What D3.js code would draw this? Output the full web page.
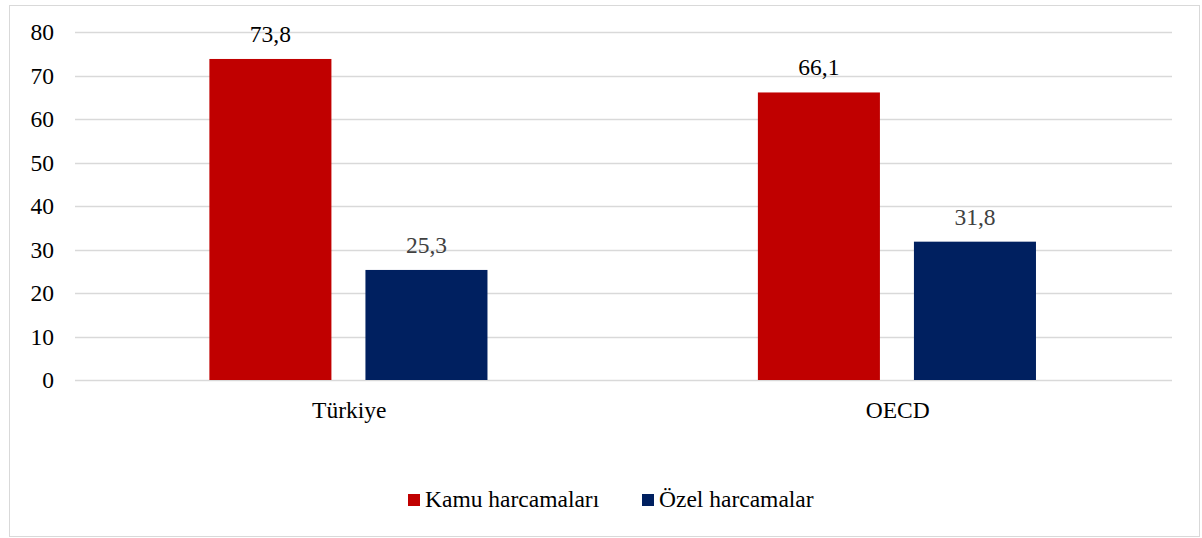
<!DOCTYPE html>
<html>
<head>
<meta charset="utf-8">
<script src="https://cdn.jsdelivr.net/npm/d3@7"></script>
<style>
    body { margin: 0; background: #fff; }
</style>
</head>
<body>
<svg id="chart" width="1202" height="538"></svg>
<script>
    // Data
    var categories = ["Türkiye", "OECD"];
    var seriesNames = ["Kamu harcamaları", "Özel harcamalar"];
    var kamu = [73.8, 66.1];
    var ozel = [25.3, 31.8];
    var yTicks = [0, 10, 20, 30, 40, 50, 60, 70, 80];
    var colors = ["#C00000", "#002060"];
    var labelColors = ["#000000", "#404040"];
    var serif = "'Liberation Serif'";
    var fs = "23.5px";

    var svg = d3.select("svg#chart");

    // chart frame
    svg.append("rect").attr("x", 9.5).attr("y", 5.5).attr("width", 1190).attr("height", 531)
        .attr("fill", "#fff").attr("stroke", "#d9d9d9").attr("stroke-width", 1);

    var plot = {left: 75, right: 1172, top: 32, bottom: 380};

    var x0 = d3.scaleBand().domain(categories).range([plot.left, plot.right]);
    var bw = x0.bandwidth();
    var x1 = d3.scaleBand().domain(seriesNames).range([bw * 0.245, bw * 0.752]).paddingInner(0.218);
    var y = d3.scaleLinear().domain([0, 80]).range([plot.bottom, plot.top]);

    // gridlines
    svg.append("g").selectAll("line").data(yTicks).enter().append("line")
        .attr("x1", plot.left).attr("x2", plot.right)
        .attr("y1", function(d) { return Math.round(y(d)) + 0.5; })
        .attr("y2", function(d) { return Math.round(y(d)) + 0.5; })
        .attr("stroke", "#d9d9d9").attr("stroke-width", 1.5);

    // y axis labels
    var yAxis = d3.axisLeft(y).tickValues(yTicks).tickSize(0).tickPadding(0).tickFormat(d3.format("d"));
    var gy = svg.append("g").attr("transform", "translate(54,0)").call(yAxis);
    gy.select(".domain").remove();
    gy.selectAll("text").style("font-family", serif).style("font-size", fs).attr("fill", "#000");

    // bars
    var rows = categories.map(function(c, i) {
        return {cat: c, vals: [kamu[i], ozel[i]]};
    });
    var groups = svg.append("g").selectAll("g").data(rows).enter().append("g")
        .attr("transform", function(d) { return "translate(" + x0(d.cat) + ",0)"; });

    groups.selectAll("rect").data(function(d) {
        return d.vals.map(function(v, j) { return {name: seriesNames[j], v: v, j: j}; });
    }).enter().append("rect")
        .attr("x", function(d) { return x1(d.name); })
        .attr("y", function(d) { return y(d.v); })
        .attr("width", x1.bandwidth())
        .attr("height", function(d) { return y(0) - y(d.v); })
        .attr("fill", function(d) { return colors[d.j]; });

    // data labels
    groups.selectAll("text").data(function(d) {
        return d.vals.map(function(v, j) { return {name: seriesNames[j], v: v, j: j}; });
    }).enter().append("text")
        .attr("x", function(d) { return x1(d.name) + x1.bandwidth() / 2; })
        .attr("y", function(d) { return y(d.v) - 17; })
        .attr("text-anchor", "middle")
        .style("font-family", serif).style("font-size", fs)
        .attr("fill", function(d) { return labelColors[d.j]; })
        .text(function(d) { return d3.format(".1f")(d.v).replace(".", ","); });

    // category labels
    svg.append("g").selectAll("text").data(categories).enter().append("text")
        .attr("x", function(d) { return x0(d) + x0.bandwidth() / 2; })
        .attr("y", 418).attr("text-anchor", "middle")
        .style("font-family", serif).style("font-size", fs).attr("fill", "#000")
        .text(function(d) { return d; });

    // legend
    var legendX = [408, 642];
    var leg = svg.append("g").selectAll("g").data(seriesNames).enter().append("g")
        .attr("transform", function(d, i) { return "translate(" + legendX[i] + ",494)"; });
    leg.append("rect").attr("width", 12).attr("height", 12).attr("fill", function(d, i) { return colors[i]; });
    leg.append("text").attr("x", 17).attr("y", 13)
        .style("font-family", serif).style("font-size", fs).attr("fill", "#000")
        .text(function(d) { return d; });
</script>
</body>
</html>
